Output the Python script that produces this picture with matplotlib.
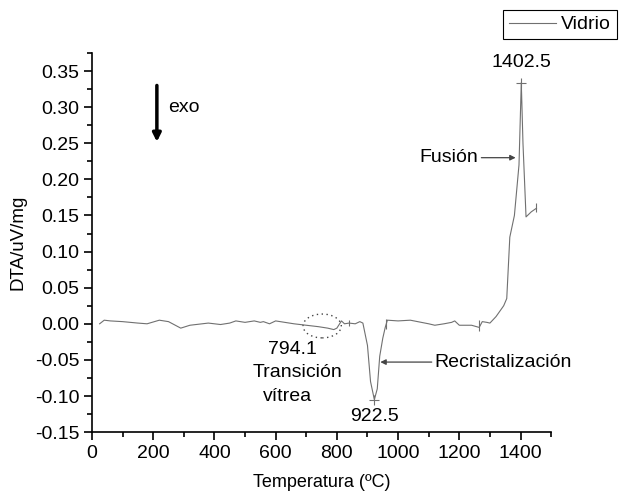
import matplotlib
matplotlib.use('Agg')
import matplotlib.pyplot as plt
from matplotlib.patches import Ellipse
from matplotlib.ticker import MultipleLocator, FormatStrFormatter

plt.rcParams['font.family'] = ['Liberation Sans', 'DejaVu Sans']
plt.rcParams['axes.unicode_minus'] = False

# DTA curve (temperature in C, DTA in uV/mg)
temp = [25, 40, 60, 100, 150, 180, 220, 250, 290, 320, 360, 380, 420, 450, 470,
        500, 530, 550, 560, 580, 600, 630, 660, 700, 740, 770, 790, 800, 815,
        825, 840, 860, 875, 885, 900, 910, 922.5, 932, 940, 950, 958, 965, 1000,
        1040, 1100, 1120, 1150, 1175, 1185, 1200, 1240, 1265, 1275, 1290, 1300,
        1320, 1345, 1355, 1365, 1380, 1395, 1402.5, 1408, 1418, 1435, 1452]
dta = [0.000, 0.005, 0.004, 0.003, 0.001, 0.000, 0.005, 0.003, -0.006, -0.002,
       0.000, 0.001, -0.001, 0.001, 0.004, 0.002, 0.004, 0.002, 0.003, 0.000,
       0.004, 0.002, 0.000, -0.002, -0.004, -0.006, -0.008, -0.006, 0.004,
       0.000, 0.001, 0.000, 0.003, 0.001, -0.030, -0.080, -0.105, -0.090,
       -0.045, -0.020, -0.005, 0.005, 0.004, 0.005, 0.000, -0.002, 0.000,
       0.002, 0.004, -0.002, -0.002, -0.005, 0.003, 0.002, 0.001, 0.010, 0.025,
       0.035, 0.120, 0.150, 0.220, 0.334, 0.250, 0.148, 0.155, 0.160]

# little vertical segment marks on the curve (x, ymin, ymax)
seg_x = [840, 962, 1265, 1452]
seg_lo = [-0.003, -0.007, -0.010, 0.155]
seg_hi = [0.005, 0.007, 0.005, 0.167]

peak_x = [922.5, 1402.5]
peak_y = [-0.105, 0.334]

fs = 14

fig = plt.figure(figsize=(6.27, 4.95), dpi=100)
ax = fig.add_axes([0.1467, 0.127, 0.7323, 0.766])

line, = ax.plot(temp, dta, color='#707070', lw=0.8, label='Vidrio')
ax.vlines(seg_x, seg_lo, seg_hi, color='#707070', lw=0.8)
ax.plot(peak_x, peak_y, '+', color='#707070', ms=7, mew=0.8)

ax.set_xlim(0, 1500)
ax.set_ylim(-0.15, 0.375)
ax.xaxis.set_major_locator(MultipleLocator(200))
ax.xaxis.set_minor_locator(MultipleLocator(100))
ax.yaxis.set_major_locator(MultipleLocator(0.05))
ax.yaxis.set_minor_locator(MultipleLocator(0.025))
ax.yaxis.set_major_formatter(FormatStrFormatter('%.2f'))
ax.spines['top'].set_visible(False)
ax.spines['right'].set_visible(False)
for s in ['left', 'bottom']:
    ax.spines[s].set_linewidth(1.2)
ax.tick_params(which='major', direction='out', length=6, width=1.2,
               labelsize=fs, pad=3)
ax.tick_params(which='minor', direction='out', length=3.5, width=1.2)

ax.set_xlabel('Temperatura (ºC)', fontsize=13, labelpad=9)
ax.set_ylabel('DTA/uV/mg', fontsize=13.5, labelpad=6)

# annotations
ax.text(1402, 0.350, '1402.5', ha='center', va='bottom', fontsize=fs)
ax.text(922, -0.128, '922.5', ha='center', va='center', fontsize=fs)
ax.text(654, -0.035, '794.1', ha='center', va='center', fontsize=fs)
ax.text(670, -0.067, 'Transición', ha='center', va='center', fontsize=fs)
ax.text(640, -0.100, 'vítrea', ha='center', va='center', fontsize=fs)
ax.add_patch(Ellipse((752, -0.003), 125, 0.033, fill=False, lw=1.0,
                     ec='#444444', ls=(0, (1, 2.5))))

ax.annotate('Recristalización', xy=(942, -0.053), xytext=(1119, -0.053),
            va='center', ha='left', fontsize=fs,
            arrowprops=dict(arrowstyle='-|>', color='#444444', lw=0.9,
                            mutation_scale=8, shrinkA=0, shrinkB=0))
ax.annotate('Fusión', xy=(1384, 0.23), xytext=(1263, 0.23),
            va='center', ha='right', fontsize=fs,
            arrowprops=dict(arrowstyle='-|>', color='#444444', lw=0.9,
                            mutation_scale=8, shrinkA=0, shrinkB=0))
ax.annotate('', xy=(212, 0.252), xytext=(212, 0.330),
            arrowprops=dict(arrowstyle='-|>', color='black', lw=2.5,
                            mutation_scale=12, shrinkA=0, shrinkB=0))
ax.text(249, 0.30, 'exo', ha='left', va='center', fontsize=fs)

leg = fig.legend(handles=[line], loc='upper left',
                 bbox_to_anchor=(503 / 627, 1 - 10 / 495), borderaxespad=0,
                 fontsize=fs, fancybox=False, framealpha=1, edgecolor='black',
                 borderpad=0.3, handlelength=2.4, handletextpad=0.3)
leg.get_frame().set_linewidth(0.8)

fig.savefig('out.png', dpi=100)
